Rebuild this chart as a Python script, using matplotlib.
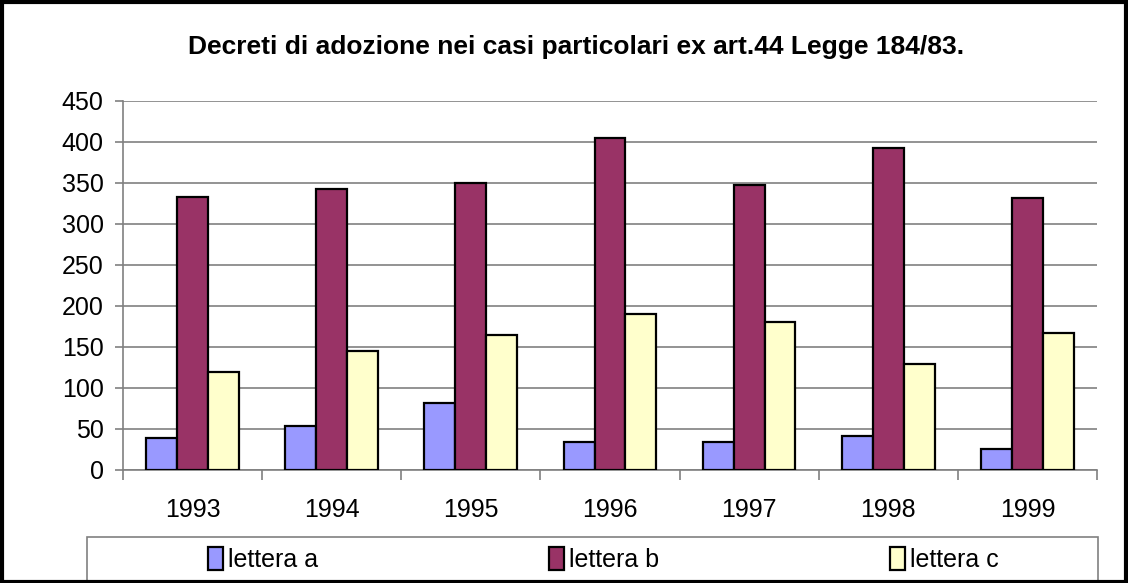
import matplotlib.pyplot as plt
import numpy as np
from matplotlib.patches import Rectangle

plt.rcParams['font.family'] = ['Liberation Sans', 'DejaVu Sans']

# Data
anni = ['1993', '1994', '1995', '1996', '1997', '1998', '1999']
lettera_a = [39, 54, 81, 34, 34, 41, 25]
lettera_b = [333, 343, 350, 405, 348, 392, 331]
lettera_c = [119, 145, 165, 190, 180, 129, 167]
serie = ['lettera a', 'lettera b', 'lettera c']
colori = ['#9999FF', '#993366', '#FFFFCC']

fig = plt.figure(figsize=(11.28, 5.83), dpi=100)
ax = fig.add_axes([0.109, 0.194, 0.8635, 0.633])

x = np.arange(len(anni))
w = 0.222
for i, (vals, lab, col) in enumerate(zip([lettera_a, lettera_b, lettera_c], serie, colori)):
    ax.bar(x + (i - 1) * w, vals, width=w, color=col, edgecolor='black',
           linewidth=1.6, label=lab, zorder=3)

ax.set_xlim(-0.5, len(anni) - 0.5)
ax.set_ylim(0, 450)
ax.set_yticks(np.arange(0, 451, 50))
ax.tick_params(axis='y', labelsize=18, length=6, color='#808080', width=1.2, pad=8)
ax.grid(axis='y', color='#808080', linewidth=1.2, zorder=0)

ax.set_xticks(x)
ax.set_xticklabels(anni)
ax.set_xticks(np.arange(-0.5, len(anni)), minor=True)
ax.tick_params(axis='x', which='major', length=0, labelsize=18, pad=20)
ax.tick_params(axis='x', which='minor', length=7, color='#808080', width=1.2)

for s in ['top', 'right']:
    ax.spines[s].set_visible(False)
for s in ['left', 'bottom']:
    ax.spines[s].set_color('#808080')
    ax.spines[s].set_linewidth(1.2)

fig.text(0.511, 0.919, 'Decreti di adozione nei casi particolari ex art.44 Legge 184/83.',
         ha='center', va='center', fontsize=19, fontweight='bold')

# legend box
fig.patches.append(Rectangle((87 / 1128, 0.0), (1098 - 87) / 1128, 46 / 583,
                             transform=fig.transFigure, fill=False,
                             edgecolor='#808080', linewidth=1.2))
h, l = ax.get_legend_handles_labels()
fig.legend(h, l, loc='center', bbox_to_anchor=(0.535, 0.04), ncol=3,
           frameon=False, fontsize=18, handlelength=0.6, handleheight=1.0,
           handletextpad=0.2, columnspacing=9.25)

# outer border
fig.patches.append(Rectangle((0.002, 0.002), 0.996, 0.995, transform=fig.transFigure,
                             fill=False, edgecolor='black', linewidth=3))

fig.savefig('out.png', dpi=100)
